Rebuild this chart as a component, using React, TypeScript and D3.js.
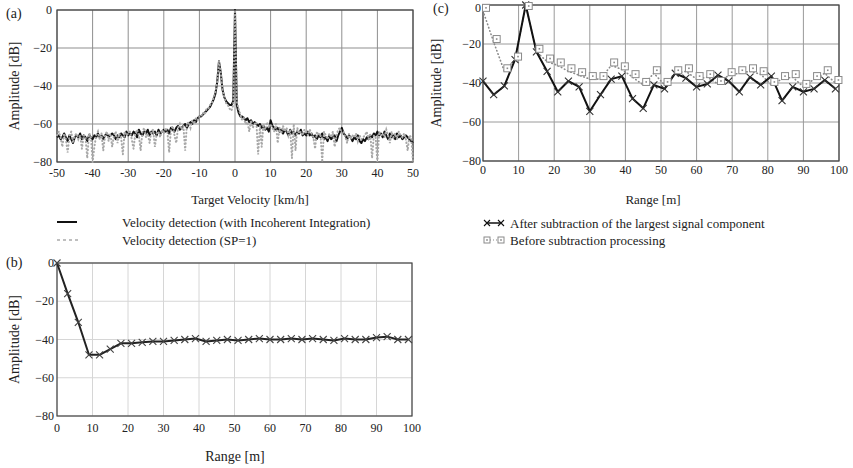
import React from 'react';
import * as d3 from 'd3';

// ---------- Panel (a) data ----------
const velocity = d3.range(-50, 50.001, 0.5);
const incoherentAmp = [
  -67,-66,-68,-67,-65,-67,-69,-66,-68,-70,-67,-66,-67,-65,-68,-66,-67,-69,-66,-67,-68,
  -66,-67,-65,-67,-66,-68,-66,-65,-67,-66,-65,-66,-68,-66,-67,-65,-66,-67,-64,-66,
  -65,-66,-64,-65,-67,-63,-65,-66,-64,-65,-63,-66,-64,-65,-64,-66,-63,-65,-64,-63,
  -64,-63,-65,-62,-63,-64,-62,-61,-63,-62,-61,-60,-62,-60,-59,-60,-58,-59,-57,-56,
  -56,-55,-54,-53,-52,-51,-49,-47,-44,
  -38,-27,-33,-42,-46,-48,-49,-50,-50,-48,
  0,
  -50,-54,-56,-56,-57,-58,-57,-59,-58,-60,-59,-60,-61,-60,-62,-61,-63,-62,-64,-58,
  -61,-62,-63,-62,-64,-63,-65,-63,-64,-66,-63,-65,-64,-66,-64,-65,-63,-66,-65,-66,
  -64,-66,-65,-67,-66,-68,-66,-67,-65,-68,-67,-69,-66,-68,-67,-66,-69,-66,-64,-62,
  -65,-66,-68,-66,-67,-69,-67,-68,-66,-69,-70,-68,-69,-67,-68,-66,-67,-65,-66,-64,
  -66,-65,-67,-64,-66,-68,-65,-67,-66,-68,-65,-67,-66,-68,-67,-66,-67,-68,-69,-70,
];
const sp1Amp = [
  -66,-64,-67,-72,-65,-68,-75,-66,-64,-70,-66,-65,-68,-66,-73,-66,-67,-78,-65,-66,-80,
  -72,-66,-64,-68,-65,-74,-66,-64,-69,-65,-72,-66,-64,-70,-65,-67,-76,-64,-66,-65,
  -64,-68,-73,-65,-63,-66,-74,-64,-62,-67,-65,-70,-64,-63,-72,-65,-64,-67,-63,-65,
  -62,-64,-75,-63,-61,-66,-70,-62,-60,-63,-61,-74,-60,-59,-62,-58,-60,-57,-58,-56,
  -56,-54,-55,-52,-52,-50,-49,-46,-43,
  -38,-27,-33,-42,-46,-49,-50,-52,-53,-50,
  0,
  -48,-52,-55,-58,-57,-60,-59,-64,-58,-62,-60,-59,-76,-61,-72,-60,-63,-59,-62,-60,
  -62,-64,-60,-70,-62,-65,-61,-64,-62,-66,-63,-78,-60,-74,-62,-65,-64,-66,-63,-64,
  -66,-63,-65,-67,-73,-64,-66,-65,-80,-64,-66,-68,-65,-67,-64,-72,-66,-63,-62,-65,
  -64,-67,-70,-65,-68,-66,-67,-65,-69,-66,-68,-67,-66,-64,-68,-65,-78,-66,-67,-80,
  -64,-66,-65,-67,-63,-66,-70,-64,-67,-65,-68,-64,-66,-67,-65,-68,-74,-66,-67,-80,
];
const velocityTicks = [-50, -40, -30, -20, -10, 0, 10, 20, 30, 40, 50];
const ampTicks = [0, -20, -40, -60, -80];
const rangeTicks = [0, 10, 20, 30, 40, 50, 60, 70, 80, 90, 100];

// ---------- Panel (b) data ----------
const rangeB = [0,3,6,9,12,15,18,21,24,27,30,33,36,39,42,45,48,51,54,57,60,63,66,69,72,75,78,81,84,87,90,93,96,99];
const ampB = [0,-16,-31,-48,-48,-45,-42,-42,-41.5,-41,-41,-40.5,-40,-39.5,-41,-40.5,-40,-40.5,-40,-39.5,-40,-40,-39.5,-40,-39.5,-40,-40.5,-39.5,-40,-40,-39,-38.5,-40,-40];

// ---------- Panel (c) data ----------
const rangeC = [0,3,6,9,12,15,18,21,24,27,30,33,36,39,42,45,48,51,54,57,60,63,66,69,72,75,78,81,84,87,90,93,96,99];
const afterSub = [-39,-46,-41.5,-28,0,-24,-34,-44.5,-39,-42,-54.5,-46,-38,-36.5,-48,-53,-41,-43,-35,-37.5,-42,-40.5,-36,-39,-44.5,-37,-41,-36.5,-49,-42,-44.5,-43,-38.5,-43];
const beforeSub = [-3,-19,-34,-28,0,-24,-29,-31,-34,-36,-38,-38,-31,-33,-37,-41,-35,-41,-35,-34,-38,-37,-40.5,-36,-35,-34,-35.5,-41,-38,-37,-42,-38,-35,-40];

const FONT = '"Liberation Serif", "Times New Roman", serif';

type Rect = { l: number; r: number; t: number; b: number };

function Frame({ rect, x, y, xt, yt, grid, xFmt, xLabY, yLabX }: any) {
  return (
    <g>
      {xt.map((v: number) => (
        <line key={'gx' + v} x1={x(v)} x2={x(v)} y1={rect.t} y2={rect.b} stroke={grid} strokeWidth={1} />
      ))}
      {yt.map((v: number) => (
        <line key={'gy' + v} x1={rect.l} x2={rect.r} y1={y(v)} y2={y(v)} stroke={grid} strokeWidth={1} />
      ))}
      <rect x={rect.l} y={rect.t} width={rect.r - rect.l} height={rect.b - rect.t} fill="none" stroke="#444" strokeWidth={1.2} />
      {xt.map((v: number) => (
        <text key={'tx' + v} x={x(v)} y={xLabY} fontSize={12} fontFamily={FONT} textAnchor="middle" fill="#222">
          {xFmt ? xFmt(v) : v}
        </text>
      ))}
      {yt.map((v: number) => (
        <text key={'ty' + v} x={yLabX} y={Math.max(y(v) + 4, 12)} fontSize={12} fontFamily={FONT} textAnchor="end" fill="#222">
          {v === 0 ? '0' : '\u2212' + Math.abs(v)}
        </text>
      ))}
    </g>
  );
}

function XMark({ cx, cy, s = 3.5, color = '#222' }: any) {
  return (
    <path d={`M${cx - s},${cy - s}L${cx + s},${cy + s}M${cx - s},${cy + s}L${cx + s},${cy - s}`} stroke={color} strokeWidth={1.1} fill="none" />
  );
}

function SqMark({ cx, cy, s = 3.5 }: any) {
  return (
    <g>
      <rect x={cx - s} y={cy - s} width={2 * s} height={2 * s} fill="white" stroke="#8a8a8a" strokeWidth={1} />
      <rect x={cx - 0.8} y={cy - 0.8} width={1.6} height={1.6} fill="#8a8a8a" />
    </g>
  );
}

export default function App() {
  // Panel (a)
  const ra: Rect = { l: 57, r: 413, t: 10, b: 162 };
  const xa = d3.scaleLinear().domain([-50, 50]).range([ra.l, ra.r]);
  const ya = d3.scaleLinear().domain([-80, 0]).range([ra.b, ra.t]);
  const lineA = d3.line<number>().x((_, i) => xa(velocity[i])).y((d) => ya(d));

  // Panel (b)
  const rb: Rect = { l: 57, r: 412, t: 263, b: 416 };
  const xb = d3.scaleLinear().domain([0, 100]).range([rb.l, rb.r]);
  const yb = d3.scaleLinear().domain([-80, 0]).range([rb.b, rb.t]);
  const lineB = d3.line<number>().x((_, i) => xb(rangeB[i])).y((d) => yb(d));

  // Panel (c)
  const rc: Rect = { l: 483, r: 839, t: 5, b: 161 };
  const xc = d3.scaleLinear().domain([0, 100]).range([rc.l, rc.r]);
  const yc = d3.scaleLinear().domain([-80, 0]).range([rc.b, rc.t]);
  const lineC = d3.line<number>().x((_, i) => xc(rangeC[i])).y((d) => yc(d));

  return (
    <svg width={853} height={468} style={{ position: 'absolute', left: 0, top: 0, background: 'white' }} fontFamily={FONT}>
      <rect width={853} height={468} fill="white" />

      {/* ---- Panel (a) ---- */}
      <text x={6} y={18} fontSize={14} fill="#222">(a)</text>
      <Frame rect={ra} x={xa} y={ya} xt={velocityTicks} yt={ampTicks} grid="#8f8f8f" xLabY={177} yLabX={52} />
      <text transform={`translate(19,${(ra.t + ra.b) / 2}) rotate(-90)`} textAnchor="middle" fontSize={14} fill="#222">Amplitude [dB]</text>
      <text x={250} y={204} textAnchor="middle" fontSize={13} fill="#222">Target Velocity [km/h]</text>
      <path d={lineA(incoherentAmp) || ''} fill="none" stroke="#111" strokeWidth={2} strokeLinejoin="round" />
      <path d={lineA(sp1Amp) || ''} fill="none" stroke="#a8a8a8" strokeWidth={2} strokeDasharray="0.5,3" strokeLinecap="round" />

      {/* legend (a) */}
      <line x1={57} x2={77} y1={222} y2={222} stroke="#111" strokeWidth={2} />
      <line x1={57} x2={80} y1={240} y2={240} stroke="#aaa" strokeWidth={1.5} strokeDasharray="3,3" />
      <text x={122} y={227} fontSize={13} fill="#222">Velocity detection (with Incoherent Integration)</text>
      <text x={122} y={245} fontSize={13} fill="#222">Velocity detection (SP=1)</text>

      {/* ---- Panel (b) ---- */}
      <text x={6} y={267} fontSize={14} fill="#222">(b)</text>
      <Frame rect={rb} x={xb} y={yb} xt={rangeTicks} yt={ampTicks} grid="#d6d6d6" xLabY={432} yLabX={54} />
      <text transform={`translate(19,${(rb.t + rb.b) / 2}) rotate(-90)`} textAnchor="middle" fontSize={14} fill="#222">Amplitude [dB]</text>
      <text x={235} y={461} textAnchor="middle" fontSize={14} fill="#222">Range [m]</text>
      <path d={lineB(ampB) || ''} fill="none" stroke="#222" strokeWidth={2} strokeLinejoin="round" />
      {ampB.map((v, i) => (
        <XMark key={'b' + i} cx={xb(rangeB[i])} cy={yb(v)} s={3.5} color="#444" />
      ))}

      {/* ---- Panel (c) ---- */}
      <text x={433} y={13} fontSize={14} fill="#222">(c)</text>
      <Frame rect={rc} x={xc} y={yc} xt={rangeTicks} yt={ampTicks} grid="#9a9a9a" xLabY={174} yLabX={481} />
      <text transform={`translate(441,${(rc.t + rc.b) / 2}) rotate(-90)`} textAnchor="middle" fontSize={14} fill="#222">Amplitude [dB]</text>
      <text x={653} y={204} textAnchor="middle" fontSize={13} fill="#222">Range [m]</text>
      <path d={lineC(beforeSub) || ''} fill="none" stroke="#8a8a8a" strokeWidth={1.6} strokeDasharray="0.5,3" strokeLinecap="round" />
      <path d={lineC(afterSub) || ''} fill="none" stroke="#111" strokeWidth={2} strokeLinejoin="round" />
      {afterSub.map((v, i) => (
        <XMark key={'ca' + i} cx={xc(rangeC[i])} cy={yc(v)} s={3.5} color="#333" />
      ))}
      {beforeSub.map((v, i) => (
        <SqMark key={'cb' + i} cx={xc(rangeC[i]) + 3} cy={Math.max(yc(v) - 3, rc.t + 1)} s={3.5} />
      ))}

      {/* legend (c) */}
      <line x1={486} x2={502} y1={223} y2={223} stroke="#111" strokeWidth={1.5} />
      <XMark cx={487} cy={223} s={3} color="#111" />
      <XMark cx={501} cy={223} s={3} color="#111" />
      <line x1={487} x2={501} y1={240} y2={240} stroke="#8a8a8a" strokeWidth={1.2} strokeDasharray="1,2" />
      <SqMark cx={487} cy={240} s={3} />
      <SqMark cx={501} cy={240} s={3} />
      <text x={510} y={228} fontSize={13} fill="#222">After subtraction of the largest signal component</text>
      <text x={510} y={245} fontSize={13} fill="#222">Before subtraction processing</text>
    </svg>
  );
}
